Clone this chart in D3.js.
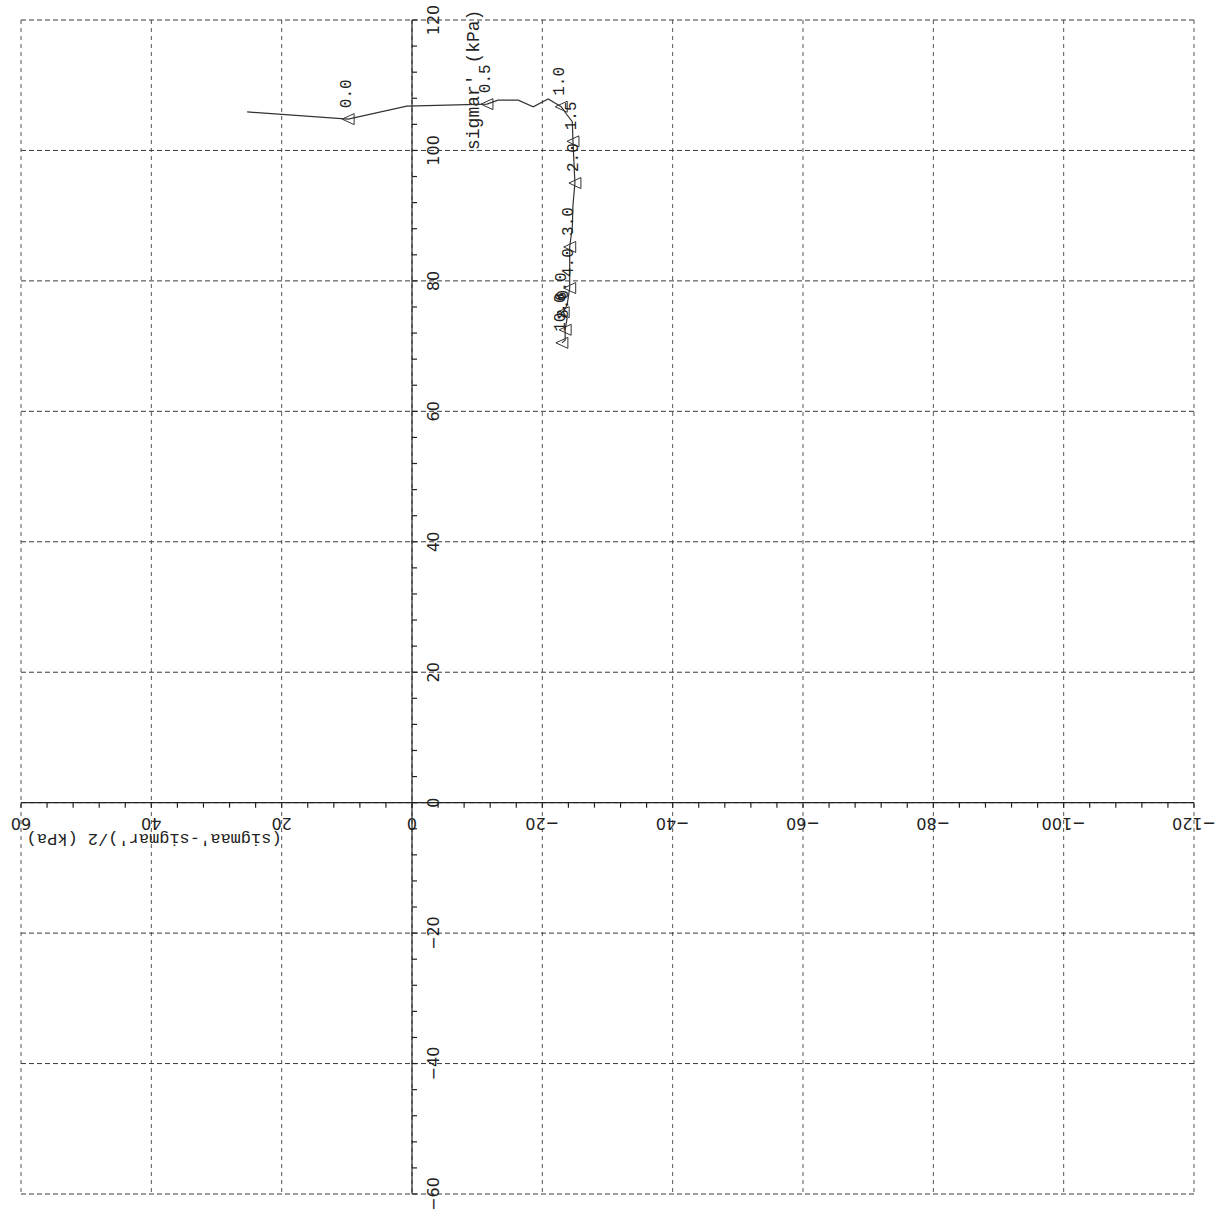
<!DOCTYPE html>
<html><head><meta charset="utf-8">
<script src="https://cdn.jsdelivr.net/npm/d3@7"></script>
<style>html,body{margin:0;padding:0;background:#fff;}</style>
</head><body>
<script>
// horizontal axis: (sigmaa'-sigmar')/2 (kPa); vertical axis: sigmar' (kPa)
const xTicks = [60, 40, 20, 0, -20, -40, -60, -80, -100, -120];
const yTicks = [120, 100, 80, 60, 40, 20, 0, -20, -40, -60];
const xTickLabels = ["60", "40", "20", "0", "\u221220", "\u221240", "\u221260", "\u221280", "\u2212100", "\u2212120"];
const yTickLabels = ["120", "100", "80", "60", "40", "20", "0", "\u221220", "\u221240", "\u221260"];
const xTitle = "(sigmaa'-sigmar')/2 (kPa)";
const yTitle = "sigmar' (kPa)";
// stress path
const pathQ = [25.3, 9.8, 0.8, -11.5, -13.2, -16.3, -18.6, -20.9, -22.9, -23.6, -24.6, -24.7, -25.0, -24.7, -24.6, -24.2, -24.2, -23.8, -23.2, -23.8, -23.5, -23.5, -23.0];
const pathS = [105.9, 104.8, 106.8, 107.1, 107.7, 107.7, 106.7, 107.9, 106.7, 105.7, 104.4, 101.4, 95.0, 91.6, 88.3, 85.2, 78.9, 76.3, 75.2, 74.3, 72.5, 70.9, 70.5];
// marked points (strain labels)
const markLabels = ["0.0", "0.5", "1.0", "1.5", "2.0", "3.0", "4.0", "6.0", "8.0", "10.0"];
const markQ = [9.8, -11.5, -22.9, -24.7, -25.0, -24.2, -24.2, -23.2, -23.5, -23.0];
const markS = [104.8, 107.1, 106.7, 101.4, 95.0, 85.2, 78.9, 75.2, 72.5, 70.5];

const W = 1231, H = 1212;
const svg = d3.select("body").append("svg").attr("width", W).attr("height", H)
  .style("font-family", "'DejaVu Sans', sans-serif");

const x = d3.scaleLinear().domain([60, -120]).range([21, 1194]);
const y = d3.scaleLinear().domain([120, -60]).range([20, 1194]);

// grid
const grid = svg.append("g").attr("stroke", "#3a3a3a").attr("stroke-width", 1).attr("fill", "none");
grid.selectAll("line.v").data(xTicks).join("line").attr("class", "v")
  .attr("x1", d => x(d)).attr("x2", d => x(d)).attr("y1", y(120)).attr("y2", y(-60))
  .attr("stroke-dasharray", "4,4").attr("stroke", "#555");
grid.selectAll("line.h").data(yTicks).join("line").attr("class", "h")
  .attr("y1", d => y(d)).attr("y2", d => y(d)).attr("x1", x(60)).attr("x2", x(-120))
  .attr("stroke-dasharray", "5,3");

// axes lines
const ax = svg.append("g").attr("stroke", "#222").attr("stroke-width", 1.2);
ax.append("line").attr("x1", x(0)).attr("x2", x(0)).attr("y1", y(120)).attr("y2", y(-60));
ax.append("line").attr("x1", x(60)).attr("x2", x(-120)).attr("y1", y(0)).attr("y2", y(0));
const minor = d3.range(-60, 120.001, 4);
ax.selectAll("line.ty").data(minor).join("line").attr("class", "ty")
  .attr("x1", x(0)).attr("x2", x(0) + 5).attr("y1", d => y(d)).attr("y2", d => y(d));
const minorX = d3.range(-120, 60.001, 4);
ax.selectAll("line.tx").data(minorX).join("line").attr("class", "tx")
  .attr("y1", y(0)).attr("y2", y(0) + 5).attr("x1", d => x(d)).attr("x2", d => x(d));

// tick labels
svg.append("g").selectAll("text").data(yTicks).join("text")
  .attr("transform", d => `translate(${x(0) + 27},${y(d)}) rotate(-90)`)
  .attr("text-anchor", "middle").attr("font-size", 16).attr("fill", "#222")
  .text((d, i) => yTickLabels[i]);
svg.append("g").selectAll("text").data(xTicks).join("text")
  .attr("transform", d => `translate(${x(d)},${y(0) + 15}) rotate(180)`)
  .attr("text-anchor", "middle").attr("font-size", 16).attr("fill", "#222")
  .text((d, i) => xTickLabels[i]);

// titles
svg.append("text")
  .attr("transform", `translate(${x(0) + 67},${y(120) + 130}) rotate(-90)`)
  .attr("font-family", "'Liberation Mono', monospace").attr("font-size", 18).attr("fill", "#222")
  .text(yTitle);
svg.append("text")
  .attr("transform", `translate(${x(20)},${y(0) + 31}) rotate(180)`)
  .attr("font-family", "'Liberation Mono', monospace").attr("font-size", 17).attr("fill", "#222")
  .text(xTitle);

// path
const line = d3.line().x((d, i) => x(pathQ[i])).y((d, i) => y(pathS[i]));
svg.append("path").datum(pathQ).attr("d", line)
  .attr("fill", "none").attr("stroke", "#333").attr("stroke-width", 1.2);

// markers
const mk = svg.append("g");
mk.selectAll("path").data(markQ).join("path")
  .attr("transform", (d, i) => `translate(${x(d)},${y(markS[i])})`)
  .attr("d", "M-6,0L6,-5.5L6,5.5Z").attr("fill", "none").attr("stroke", "#333").attr("stroke-width", 1);
mk.selectAll("text").data(markQ).join("text")
  .attr("transform", (d, i) => `translate(${x(d) + 3},${y(markS[i]) - 11}) rotate(-90)`)
  .attr("font-family", "'Liberation Mono', monospace").attr("font-size", 16).attr("fill", "#222")
  .text((d, i) => markLabels[i]);
</script>
</body></html>
